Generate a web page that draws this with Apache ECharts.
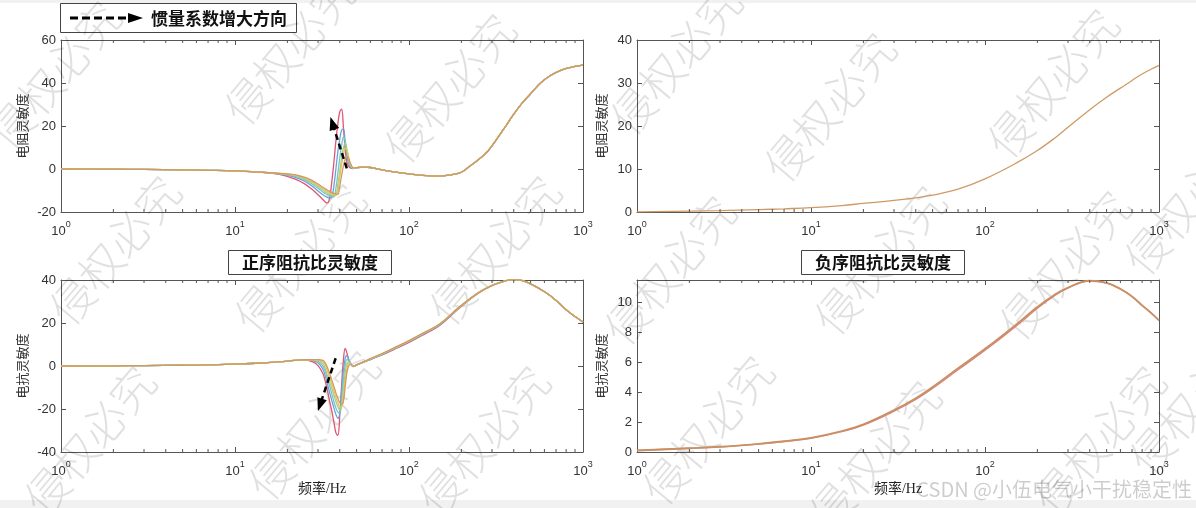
<!DOCTYPE html>
<html><head><meta charset="utf-8">
<script src="https://cdn.jsdelivr.net/npm/echarts@6/dist/echarts.min.js"></script>
<style>html,body{margin:0;padding:0;background:#fff}#c{width:1196px;height:508px}</style>
</head><body><div id="c"></div>
<script>
// ---------------- DATA ----------------
const lineColors = ['#e0566f','#6f9fd8','#73c6c9','#a4d08c','#e9c455','#cf9a66'];

// top-left: positive-sequence resistance sensitivity
const freqTop = [1,2,3,5,7,10,14,18,22,25,28,30,32,33,34,35,36,37,38,39,40,41,42,43,44,45,46,48,50,55,60,70,80,100,120,145,170,200,225,250,285,320,360,400,450,500,570,650,750,850,1000];
const resPosLowRed   = [0,-0.1,-0.2,-0.4,-0.6,-0.9,-1.5,-2.5];
const resPosLowBlue  = [0,-0.1,-0.2,-0.4,-0.6,-0.9,-1.5,-2.3];
const resPosLowCyan  = [0,-0.1,-0.2,-0.4,-0.6,-0.9,-1.5,-2.2];
const resPosLowGreen = [0,-0.1,-0.2,-0.4,-0.6,-0.9,-1.5,-2.1];
const resPosLowYellow= [0,-0.1,-0.2,-0.4,-0.6,-0.9,-1.5,-2.0];
const resPosLowOrange= [0,-0.1,-0.2,-0.4,-0.6,-0.9,-1.5,-2.0];
const resPosMidRed    = [-4.6,-6.8,-9.8,-12.0,-14.2,-15.3,-15.8,-13.5,-6,3,13,21,26.5,27.8,19,9,3,1.2,0.5,0.2,0.6];
const resPosMidBlue   = [-3.8,-5.6,-8.2,-10.2,-12.0,-12.7,-13.2,-13.6,-13.0,-8,0,8,14,18,18.7,12,6,2.5,1,0.3,0.6];
const resPosMidCyan   = [-3.3,-4.9,-7.2,-9.0,-10.7,-11.4,-12.0,-12.5,-12.8,-12.9,-9,-2,5,11,14.8,13,8,3.5,1.5,0.3,0.6];
const resPosMidGreen  = [-3.0,-4.4,-6.5,-8.2,-9.8,-10.6,-11.2,-11.8,-12.2,-12.4,-12.3,-7,-1,5,10,12,9,4.5,2,0.3,0.6];
const resPosMidYellow = [-2.8,-4.1,-6.0,-7.6,-9.1,-9.8,-10.5,-11.0,-11.5,-11.9,-12.1,-10,-4,2,6.5,9.5,9,5.5,2.5,0.4,0.6];
const resPosMidOrange = [-2.6,-3.8,-5.5,-7.0,-8.5,-9.2,-9.9,-10.4,-10.9,-11.3,-11.6,-11.8,-8,-3,1.5,4.5,6,5,2.8,0.5,0.6];
const resPosHigh = [0.9,0.7,-0.4,-1.2,-2.3,-3.0,-3.3,-2.8,-1.5,1.5,4.3,8.5,14,20,25.5,31,35,40,43.5,46,47.3,48.3];

// bottom-left: positive-sequence reactance sensitivity
const freqBot = [1,2,3,5,7,10,14,18,22,25,28,30,32,33,34,35,36,37,38,39,40,41,42,43,44,45,46,48,50,55,60,70,80,100,125,150,195,250,305,350,400,450,520,620,700,800,900,1000];
const reaPosLow = [0,0.1,0.2,0.35,0.5,0.9,1.4,2.0,2.6,2.9];
const reaPosMidRed    = [1.9,0.2,-3.5,-7,-11.5,-16.5,-21,-26,-31,-32.3,-23,-9,3,8.2,6,3,1.3,-0.3,0.5];
const reaPosMidBlue   = [2.4,1.5,-1.5,-4.5,-8.5,-12.5,-16,-19.5,-22.5,-24.3,-22,-12,-2,3.5,5,3,1.5,-0.2,0.5];
const reaPosMidCyan   = [2.6,2.2,0,-2.5,-6,-9.5,-13,-16.5,-19.5,-21.5,-22,-16,-6,0.5,3,2.5,1.5,-0.2,0.5];
const reaPosMidGreen  = [2.7,2.6,1.2,-1,-4.5,-7.5,-10.5,-13.5,-16.5,-19,-20.5,-18.5,-11,-3,1,1.8,1.2,-0.2,0.5];
const reaPosMidYellow = [2.8,2.8,2,0.5,-2.5,-5.5,-8.5,-11.5,-14.5,-17,-19,-19,-14.5,-6.5,-1,1,1,-0.2,0.5];
const reaPosMidOrange = [2.9,3.0,2.6,1.5,-0.8,-3.5,-6.5,-9.5,-12.5,-15,-17,-17.8,-16.5,-9.5,-3,0,0.8,-0.2,0.5];
const reaPosRiseRed    = [1.8,3.0,5.2,7.3,11.0,15.2,18.8,27.0,33.8];
const reaPosRiseBlue   = [1.9,3.1,5.4,7.5,11.3,15.5,19.1,27.2,33.9];
const reaPosRiseCyan   = [1.9,3.2,5.5,7.7,11.5,15.7,19.3,27.3,34.0];
const reaPosRiseGreen  = [2.0,3.3,5.6,7.8,11.6,15.8,19.4,27.4,34.0];
const reaPosRiseYellow = [2.0,3.4,5.7,7.9,11.7,15.9,19.5,27.5,34.0];
const reaPosRiseOrange = [2.0,3.4,5.8,8.0,11.8,16.0,19.5,27.5,34.0];
const reaPosTail = [37.7,39.4,40.2,39.7,37.5,33.8,30.5,26.2,23,20.5];

// right: negative-sequence sensitivities
const freqNeg = [1,2,3,5,7,10,15,20,30,40,50,70,100,150,200,250,300,400,500,600,700,800,900,1000];
const resNeg = [0.05,0.2,0.3,0.55,0.75,1.0,1.5,2.0,2.7,3.3,3.9,5.3,7.7,11.3,14.3,17.1,19.7,23.8,26.7,28.8,30.6,32.1,33.2,34.1];
const reaNeg = [0.1,0.25,0.35,0.55,0.72,0.95,1.4,1.85,2.8,3.6,4.35,5.6,6.9,8.5,9.7,10.5,11.0,11.45,11.3,10.9,10.4,9.8,9.3,8.8];
const reaNegRed = [0.1,0.25,0.34,0.53,0.7,0.92,1.36,1.8,2.73,3.52,4.26,5.5,6.8,8.4,9.62,10.44,10.96,11.43,11.3,10.9,10.4,9.8,9.3,8.8];

// direction arrows (data coords: [Hz, value])
const arrowTop = [[43.9, 0.3], [36.3, 21.3]];
const arrowBot = [[37.9, 3.6], [30.8, -18.1]];

const minorTickVals = [2,3,4,5,6,7,8,9,20,30,40,50,60,70,80,90,200,300,400,500,600,700,800,900];

const titles = ['正序阻抗比灵敏度','负序阻抗比灵敏度'];
const yNames = ['电阻灵敏度','电阻灵敏度','电抗灵敏度','电抗灵敏度'];
const xName = '频率/Hz';
const legendText = '惯量系数增大方向';
const watermarkText = '侵权必究';
const creditText = 'CSDN @小伍电气小干扰稳定性';
const watermarkPos = [[55,75],[290,50],[450,88],[676,60],[830,107],[1053,83],
  [115,250],[300,258],[495,250],[670,270],[880,260],[1065,265],[1190,200],
  [90,440],[314,425],[484,440],[708,430],[875,455],[1100,440],[1195,400]];

// ---------------- CHART ----------------
const resPosSeries = [
  resPosLowRed.concat(resPosMidRed, resPosHigh),
  resPosLowBlue.concat(resPosMidBlue, resPosHigh),
  resPosLowCyan.concat(resPosMidCyan, resPosHigh),
  resPosLowGreen.concat(resPosMidGreen, resPosHigh),
  resPosLowYellow.concat(resPosMidYellow, resPosHigh),
  resPosLowOrange.concat(resPosMidOrange, resPosHigh)
];
const reaPosSeries = [
  reaPosLow.concat(reaPosMidRed, reaPosRiseRed, reaPosTail),
  reaPosLow.concat(reaPosMidBlue, reaPosRiseBlue, reaPosTail),
  reaPosLow.concat(reaPosMidCyan, reaPosRiseCyan, reaPosTail),
  reaPosLow.concat(reaPosMidGreen, reaPosRiseGreen, reaPosTail),
  reaPosLow.concat(reaPosMidYellow, reaPosRiseYellow, reaPosTail),
  reaPosLow.concat(reaPosMidOrange, reaPosRiseOrange, reaPosTail)
];
const zip = (xs, ys) => xs.map((x, i) => [x, ys[i]]);

const grids = [
  {left:61, top:40, width:522, height:172},
  {left:637, top:40, width:522, height:172},
  {left:61, top:280, width:522, height:172},
  {left:637, top:280, width:522, height:172}
];
const yRange = [[-20,60,20],[0,40,10],[-40,40,20],[0,11.5,2]];
const axisColor = '#555';
const labelFont = '"Liberation Sans", Arial, sans-serif';
const cjkFont = '"Noto Sans CJK SC", sans-serif';

const xAxes = [], yAxes = [];
grids.forEach((g, i) => {
  const base = {
    gridIndex:i, type:'log', logBase:10, min:1, max:1000,
    axisLine:{show:true, onZero:false, lineStyle:{color:axisColor, width:1}},
    axisTick:{show:true, inside:true, length:5, lineStyle:{color:axisColor}},
    splitLine:{show:false}
  };
  xAxes.push(Object.assign({}, base, {
    position:'bottom',
    name: i >= 2 ? xName : '',
    nameLocation:'middle', nameGap:30,
    nameTextStyle:{fontFamily:'"Liberation Serif", "Noto Sans CJK SC", serif', fontSize:14, color:'#222'},
    axisLabel:{
      margin:8,
      formatter: v => '{b|10}{s|' + Math.round(Math.log10(v)) + '}',
      rich:{
        b:{fontSize:13, fontFamily:labelFont, color:'#333', lineHeight:18, verticalAlign:'bottom'},
        s:{fontSize:9, fontFamily:labelFont, color:'#333', lineHeight:18, verticalAlign:'top'}
      }
    }
  }));
  xAxes.push(Object.assign({}, base, {position:'top', axisLabel:{show:false}}));
  const r = yRange[i];
  const ybase = {
    gridIndex:i, type:'value', min:r[0], max:r[1], interval:r[2],
    axisLine:{show:true, onZero:false, lineStyle:{color:axisColor, width:1}},
    axisTick:{show:true, inside:true, length:5, lineStyle:{color:axisColor}},
    splitLine:{show:false}
  };
  yAxes.push(Object.assign({}, ybase, {
    position:'left',
    name: yNames[i], nameLocation:'middle', nameGap: (i % 2 === 0) ? 32 : 29,
    nameTextStyle:{fontFamily:cjkFont, fontSize:13, color:'#333'},
    axisLabel:{color:'#333', fontFamily:labelFont, fontSize:13, margin:5, showMaxLabel: i !== 3}
  }));
  yAxes.push(Object.assign({}, ybase, {position:'right', axisLabel:{show:false}}));
});

function lineSeries(gi, xs, ys, color, extra) {
  return Object.assign({
    type:'line', xAxisIndex:gi*2, yAxisIndex:gi*2,
    data: zip(xs, ys), showSymbol:false, symbol:'none', smooth:0.4,
    lineStyle:{color:color, width:1.3}, silent:true, z:3
  }, extra || {});
}
function arrowMark(pts) {
  return {markLine:{
    silent:true, animation:false, symbol:['none','triangle'], symbolSize:[10,13],
    label:{show:false},
    lineStyle:{color:'#000', width:2.5, type:[6,4]},
    data:[[{coord:pts[0]},{coord:pts[1]}]]
  }};
}
function minorTicks(gi) {
  const r = yRange[gi];
  return {
    type:'custom', xAxisIndex:gi*2, yAxisIndex:gi*2, silent:true, z:4, clip:false,
    data: minorTickVals.map(v => [v, r[0], r[1]]),
    renderItem: (params, api) => {
      const x = api.value(0);
      const b = api.coord([x, api.value(1)]);
      const t = api.coord([x, api.value(2)]);
      return {type:'group', children:[
        {type:'line', shape:{x1:b[0], y1:b[1], x2:b[0], y2:b[1]-3}, style:{stroke:axisColor, lineWidth:1}},
        {type:'line', shape:{x1:t[0], y1:t[1], x2:t[0], y2:t[1]+3}, style:{stroke:axisColor, lineWidth:1}}
      ]};
    }
  };
}

const series = [];
resPosSeries.forEach((ys, k) => series.push(lineSeries(0, freqTop, ys, lineColors[k], k === 5 ? arrowMark(arrowTop) : null)));
reaPosSeries.forEach((ys, k) => series.push(lineSeries(2, freqBot, ys, lineColors[k], k === 5 ? arrowMark(arrowBot) : null)));
series.push(lineSeries(1, freqNeg, resNeg, lineColors[5]));
series.push(lineSeries(3, freqNeg, reaNegRed, lineColors[0], {lineStyle:{color:'#d98080', width:1.4}}));
series.push(lineSeries(3, freqNeg, reaNeg, lineColors[5], {lineStyle:{color:'#c99163', width:1.8}}));
[0,1,2,3].forEach(g => series.push(minorTicks(g)));

const graphics = [
  {type:'rect', shape:{x:0, y:0, width:1196, height:3}, style:{fill:'#f1f1f1'}, z:0, silent:true},
  {type:'rect', shape:{x:0, y:500, width:1196, height:8}, style:{fill:'#f1f1f1'}, z:0, silent:true}
];
watermarkPos.forEach(p => graphics.push({
  type:'text', x:p[0], y:p[1], rotation: 50 * Math.PI / 180, silent:true, z:1,
  style:{text:watermarkText, fill:'rgba(0,0,0,0.12)', font:'200 44px "Noto Sans CJK SC", sans-serif', align:'center', verticalAlign:'middle'}
}));
graphics.push({
  type:'text', x:1192, y:489, silent:true, z:1,
  style:{text:creditText, fill:'rgba(0,0,0,0.2)', font:'20px "Noto Sans CJK SC", sans-serif', align:'right', verticalAlign:'middle'}
});
graphics.push({
  type:'group', z:100, silent:true, children:[
    {type:'rect', shape:{x:60.5, y:3.5, width:236, height:29}, style:{fill:'#fff', stroke:'#444', lineWidth:1}},
    {type:'line', shape:{x1:70, y1:18, x2:129, y2:18}, style:{stroke:'#000', lineWidth:3, lineDash:[8,4]}},
    {type:'polygon', shape:{points:[[128,13],[143,18],[128,23]]}, style:{fill:'#000'}},
    {type:'text', x:151, y:18.5, style:{text:legendText, fill:'#111', font:'bold 17px "Noto Sans CJK SC", sans-serif', verticalAlign:'middle'}}
  ]
});

const titleStyle = {fontSize:17, fontWeight:'bold', color:'#111', fontFamily:cjkFont};
const option = {
  animation:false,
  backgroundColor:'#fff',
  title:[
    {text:titles[0], left:228, top:250, padding:[4,14], borderColor:'#444', borderWidth:1, backgroundColor:'#fff', textStyle:titleStyle, z:10},
    {text:titles[1], left:801, top:250, padding:[4,14], borderColor:'#444', borderWidth:1, backgroundColor:'#fff', textStyle:titleStyle, z:10}
  ],
  grid: grids,
  xAxis: xAxes,
  yAxis: yAxes,
  series: series,
  graphic: graphics
};
const chart = echarts.init(document.getElementById('c'));
chart.setOption(option);
</script></body></html>
